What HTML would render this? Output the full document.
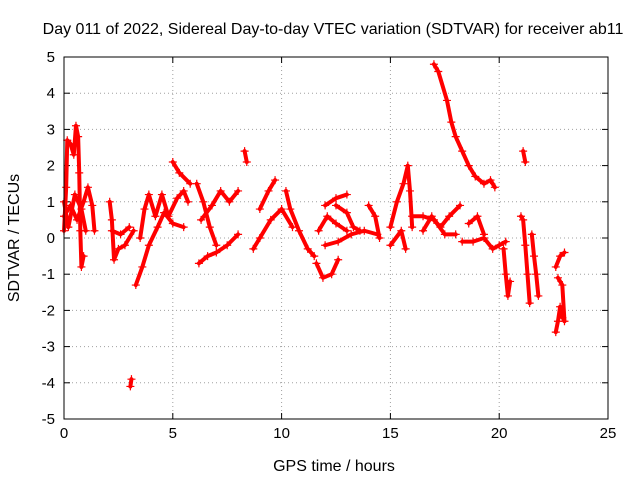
<!DOCTYPE html>
<html><head><meta charset="utf-8"><style>
body{margin:0;background:#fff}
svg{display:block;font-family:"Liberation Sans",sans-serif}
</style></head><body>
<svg id="chart" width="640" height="480">
<text x="333" y="34" font-size="16" text-anchor="middle">Day 011 of 2022, Sidereal Day-to-day VTEC variation (SDTVAR) for receiver ab11</text>
<text x="334" y="471" font-size="16" text-anchor="middle">GPS time / hours</text>
<text transform="translate(19,238) rotate(-90)" font-size="16" text-anchor="middle">SDTVAR / TECUs</text>
<g id="grid"></g><g id="ticks"></g><g id="series"></g>
<rect x="64" y="57" width="544" height="362" fill="none" stroke="#000" stroke-width="1"/>
</svg>
<script>
const xTicks=[0,5,10,15,20,25];
const yTicks=[-5,-4,-3,-2,-1,0,1,2,3,4,5];
const trackA=[[0,0.2],[0.1,1.4],[0.15,2.7],[0.3,2.6],[0.45,2.3],[0.55,3.1],[0.65,2.8],[0.7,1.8],[0.75,0.2],[0.8,-0.8],[0.9,-0.5]];
const trackB=[[0,0.6],[0.3,0.9],[0.6,0.5],[0.9,1.0],[1.1,1.4],[1.3,0.9],[1.4,0.2]];
const trackC=[[0,1.0],[0.2,0.3],[0.5,1.2],[0.8,0.8],[1.0,0.2]];
const trackD=[[2.1,1.0],[2.2,0.5],[2.3,-0.6],[2.5,-0.3],[2.8,-0.2],[3.2,0.2]];
const trackE=[[2.2,0.2],[2.6,0.1],[3.0,0.3]];
const trackF=[[3.05,-4.1],[3.1,-3.9]];
const trackG=[[3.3,-1.3],[3.6,-0.8],[3.9,-0.2],[4.3,0.3],[4.6,0.7],[5.0,0.4],[5.5,0.3]];
const trackH=[[3.5,0.0],[3.7,0.8],[3.9,1.2],[4.2,0.6],[4.5,1.2],[4.8,0.6],[5.2,1.1],[5.5,1.3],[5.7,1.0]];
const trackI=[[5.0,2.1],[5.3,1.8],[5.8,1.5]];
const trackJ=[[6.1,1.5],[6.4,1.0],[6.7,0.3],[7.0,-0.2]];
const trackK=[[6.2,-0.7],[6.6,-0.5],[7.0,-0.4],[7.5,-0.2],[8.0,0.1]];
const trackL=[[6.3,0.5],[6.8,0.9],[7.2,1.3],[7.6,1.0],[8.0,1.3]];
const trackM=[[8.3,2.4],[8.4,2.1]];
const trackN=[[8.7,-0.3],[9.0,0.0],[9.5,0.5],[10.0,0.8],[10.5,0.3]];
const trackO=[[9.0,0.8],[9.4,1.3],[9.7,1.6]];
const trackP=[[10.2,1.3],[10.4,0.8],[10.8,0.2],[11.2,-0.3],[11.5,-0.5]];
const trackQ=[[11.6,-0.7],[11.9,-1.1],[12.3,-1.0],[12.6,-0.6]];
const trackR=[[11.7,0.2],[12.1,0.6],[12.5,0.4],[13.0,0.2]];
const trackS=[[12.5,0.9],[13.0,0.7],[13.3,0.3],[13.6,0.2]];
const trackT=[[12.0,-0.2],[12.6,-0.1],[13.2,0.1],[13.8,0.2],[14.4,0.1]];
const trackU=[[12.0,0.9],[12.5,1.1],[13.0,1.2]];
const trackV=[[14.0,0.9],[14.3,0.6],[14.5,0.0]];
const trackW=[[15.0,0.3],[15.3,1.0],[15.6,1.5],[15.8,2.0],[15.9,1.3],[16.0,0.3]];
const trackX=[[15.0,-0.2],[15.5,0.2],[15.7,-0.3]];
const trackY=[[16.0,0.6],[16.5,0.6],[17.0,0.5],[17.3,0.3],[17.7,0.6],[18.2,0.9]];
const trackZ=[[16.5,0.2],[16.9,0.6],[17.5,0.1],[18.0,0.1]];
const trackBig=[[17.0,4.8],[17.2,4.6],[17.6,3.8],[17.8,3.2],[18.0,2.8],[18.3,2.4],[18.6,2.0],[18.9,1.7],[19.3,1.5],[19.6,1.6],[19.8,1.4]];
const trackAA=[[18.3,-0.1],[18.8,-0.1],[19.3,0.0],[19.7,-0.3],[20.0,-0.2],[20.3,-0.1]];
const trackAB=[[18.6,0.4],[19.0,0.6],[19.3,0.1]];
const trackAC=[[20.2,-0.3],[20.3,-1.0],[20.4,-1.6],[20.5,-1.2]];
const trackAD=[[21.1,2.4],[21.2,2.1]];
const trackAE=[[21.0,0.6],[21.1,0.5],[21.2,-0.2],[21.3,-1.0],[21.4,-1.8]];
const trackAF=[[21.5,0.1],[21.6,-0.5],[21.7,-1.0],[21.8,-1.6]];
const trackAG=[[22.6,-2.6],[22.7,-2.3],[22.8,-1.9],[22.9,-2.2]];
const trackAH=[[22.6,-0.8],[22.8,-0.5],[23.0,-0.4]];
const trackAI=[[22.7,-1.1],[22.9,-1.3],[23.0,-2.3]];
const tracks=[trackA,trackB,trackC,trackD,trackE,trackF,trackG,trackH,trackI,trackJ,trackK,trackL,trackM,trackN,trackO,trackP,trackQ,trackR,trackS,trackT,trackU,trackV,trackW,trackX,trackY,trackZ,trackBig,trackAA,trackAB,trackAC,trackAD,trackAE,trackAF,trackAG,trackAH,trackAI];

const NS="http://www.w3.org/2000/svg";
const X0=64,X1=608,Y0=419,Y1=57;
function sx(v){return X0+(v-0)/(25-0)*(X1-X0);}
function sy(v){return Y0-(v+5)/10*(Y0-Y1);}
function mk(tag,at,parent){const e=document.createElementNS(NS,tag);for(const k in at)e.setAttribute(k,at[k]);parent.appendChild(e);return e;}
const grid=document.getElementById('grid'),ticks=document.getElementById('ticks'),series=document.getElementById('series');
xTicks.forEach(t=>{
  const x=sx(t);
  if(t>0&&t<25){const g=mk('line',{x1:x,x2:x,y1:Y0,y2:Y1,stroke:'#a0a0a0','stroke-dasharray':'1,3'},grid);
  
  }
  mk('line',{x1:x,x2:x,y1:Y0,y2:Y0-6,stroke:'#000'},ticks);
  mk('line',{x1:x,x2:x,y1:Y1,y2:Y1+6,stroke:'#000'},ticks);
  const l=mk('text',{x:x,y:Y0+19,'font-size':15,'text-anchor':'middle'},ticks);l.textContent=t;
  
  
});
yTicks.forEach(t=>{
  const y=sy(t);
  if(t>-5&&t<5){const g=mk('line',{x1:X0,x2:X1,y1:y,y2:y,stroke:'#a0a0a0','stroke-dasharray':'1,3'},grid);
  
  }
  mk('line',{x1:X0,x2:X0+6,y1:y,y2:y,stroke:'#000'},ticks);
  mk('line',{x1:X1,x2:X1-6,y1:y,y2:y,stroke:'#000'},ticks);
  const l=mk('text',{x:X0-9,y:y+5,'font-size':15,'text-anchor':'end'},ticks);l.textContent=t;
  
  
});
tracks.forEach(tr=>{
  const p=mk('polyline',{points:tr.map(d=>sx(d[0])+','+sy(d[1])).join(' '),fill:'none',stroke:'#f00','stroke-width':4,'stroke-linejoin':'round','stroke-linecap':'round'},series);
  
  
  tr.forEach(d=>{
    const x=sx(d[0]),y=sy(d[1]);
    const m=mk('path',{d:`M${x-4},${y}H${x+4}M${x},${y-4}V${y+4}`,stroke:'#f00','stroke-width':1.2},series);
    
    
  });
});
</script>
</body></html>
